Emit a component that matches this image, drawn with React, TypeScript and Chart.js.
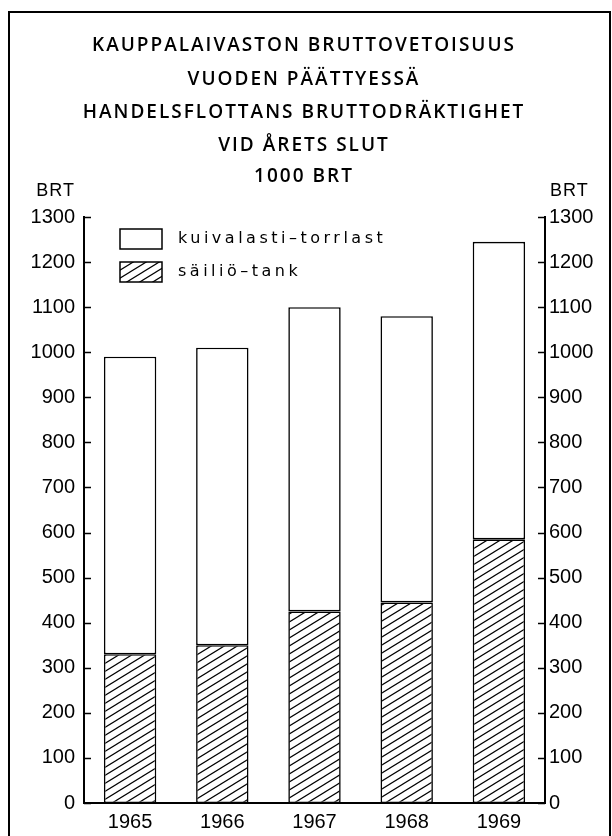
import { useEffect, useRef } from "react";
import { Chart, registerables } from "chart.js";

Chart.register(...registerables);

const years = ["1965", "1966", "1967", "1968", "1969"];
const tankValues = [330, 350, 425, 445, 585];
const dryCargoValues = [660, 660, 675, 635, 660];
const yTickValues = [0, 100, 200, 300, 400, 500, 600, 700, 800, 900, 1000, 1100, 1200, 1300];
const seriesLabels = ["säiliö–tank", "kuivalasti–torrlast"];
const titleLines = [
  "KAUPPALAIVASTON BRUTTOVETOISUUS",
  "VUODEN PÄÄTTYESSÄ",
  "HANDELSFLOTTANS BRUTTODRÄKTIGHET",
  "VID ÅRETS SLUT",
  "1000 BRT",
];
const unitLabel = "BRT";

const NUM_FONT = "'Liberation Sans', Arial, sans-serif";
const TXT_FONT = "'DejaVu Sans', 'Liberation Sans', sans-serif";
const TITLE_FONT = "'Open Sans', 'DejaVu Sans', sans-serif";

function makeHatch(): CanvasPattern | string {
  const c = document.createElement("canvas");
  const w = 13;
  const h = 8;
  c.width = w;
  c.height = h;
  const g = c.getContext("2d");
  if (!g) return "#fff";
  g.fillStyle = "#fff";
  g.fillRect(0, 0, w, h);
  g.strokeStyle = "#000";
  g.lineWidth = 1.2;
  g.beginPath();
  for (const off of [-h, 0, h]) {
    g.moveTo(-w, 2 * h + off);
    g.lineTo(2 * w, -h + off);
  }
  g.stroke();
  const p = g.createPattern(c, "repeat");
  return p || "#fff";
}

export default function App() {
  const ref = useRef<HTMLCanvasElement | null>(null);

  useEffect(() => {
    const canvas = ref.current;
    if (!canvas) return;
    const hatch = makeHatch();

    const decor = {
      id: "decor",
      beforeDraw(chart: any) {
        const ctx = chart.ctx;
        ctx.save();
        ctx.fillStyle = "#fff";
        ctx.fillRect(0, 0, chart.width, chart.height);
        ctx.restore();
      },
      afterDraw(chart: any) {
        const ctx = chart.ctx as CanvasRenderingContext2D;
        const area = chart.chartArea;
        ctx.save();
        // frame
        ctx.strokeStyle = "#000";
        ctx.lineWidth = 2;
        ctx.beginPath();
        ctx.moveTo(9, chart.height + 2);
        ctx.lineTo(9, 12);
        ctx.lineTo(610, 12);
        ctx.lineTo(610, chart.height + 2);
        ctx.stroke();

        // title
        ctx.fillStyle = "#000";
        ctx.textAlign = "center";
        ctx.textBaseline = "middle";
        ctx.font = `600 19px ${TITLE_FONT}`;
        (ctx as any).letterSpacing = "2px";
        const ys = [46, 80, 113, 146, 177];
        titleLines.forEach((t, i) => ctx.fillText(t, 304, ys[i]));

        // unit labels
        ctx.font = `18px ${NUM_FONT}`;
        (ctx as any).letterSpacing = "1px";
        ctx.textAlign = "right";
        ctx.fillText(unitLabel, 75, 191);
        ctx.textAlign = "left";
        ctx.fillText(unitLabel, 550, 191);
        (ctx as any).letterSpacing = "0px";

        // inward ticks
        const ys1 = chart.scales.y;
        ctx.lineWidth = 1.5;
        ctx.beginPath();
        ys1.ticks.forEach((t: any) => {
          const y = Math.round(ys1.getPixelForValue(t.value)) + 0.5;
          ctx.moveTo(area.left, y);
          ctx.lineTo(area.left + 7, y);
          ctx.moveTo(area.right - 7, y);
          ctx.lineTo(area.right, y);
        });
        ctx.stroke();

        // legend (inside plot, top-down = reverse of stack order)
        const ds = chart.data.datasets;
        const order = [...ds.keys()].reverse();
        const bx = 120;
        const bw = 42;
        const bh = 20;
        const rowY = [229, 262];
        order.forEach((di: number, row: number) => {
          const d = ds[di];
          const y = rowY[row];
          ctx.fillStyle = d.backgroundColor;
          ctx.fillRect(bx, y, bw, bh);
          ctx.strokeStyle = "#000";
          ctx.lineWidth = 1.5;
          ctx.strokeRect(bx, y, bw, bh);
          ctx.fillStyle = "#000";
          ctx.font = `16px ${TXT_FONT}`;
          (ctx as any).letterSpacing = "3.5px";
          ctx.textAlign = "left";
          ctx.textBaseline = "middle";
          ctx.fillText(d.label, 178, y + bh / 2);
        });
        ctx.restore();
      },
    };

    const chart = new Chart(canvas, {
      type: "bar",
      data: {
        labels: years,
        datasets: [
          {
            label: seriesLabels[0],
            data: tankValues,
            backgroundColor: hatch as any,
            borderColor: "#000",
            borderWidth: 1.6,
            borderSkipped: false,
            yAxisID: "y",
          },
          {
            label: seriesLabels[1],
            data: dryCargoValues,
            backgroundColor: "#fff",
            borderColor: "#000",
            borderWidth: 1.6,
            borderSkipped: false,
            yAxisID: "y",
          },
        ],
      },
      options: {
        responsive: false,
        animation: false,
        devicePixelRatio: 1,
        layout: { padding: { top: 217, left: 0, right: 0, bottom: 0 } },
        datasets: { bar: { barPercentage: 0.58, categoryPercentage: 0.98 } },
        plugins: {
          legend: { display: false },
          title: { display: false },
          tooltip: { enabled: false },
        },
        scales: {
          x: {
            stacked: true,
            grid: { display: false, drawTicks: false },
            border: { display: true, color: "#000", width: 2 },
            ticks: { color: "#000", font: { family: NUM_FONT, size: 20 }, padding: 7 },
            afterFit: (s: any) => {
              s.height = 33;
            },
          },
          y: {
            stacked: true,
            position: "left",
            min: 0,
            max: 1300,
            grid: { display: false, drawTicks: false },
            border: { display: true, color: "#000", width: 2 },
            afterBuildTicks: (s: any) => {
              s.ticks = yTickValues.map((v) => ({ value: v }));
            },
            ticks: {
              color: "#000",
              font: { family: NUM_FONT, size: 20 },
              padding: 9,
              callback: (v: any) => String(v),
            },
            afterFit: (s: any) => {
              s.width = 84;
            },
          },
          y2: {
            position: "right",
            min: 0,
            max: 1300,
            grid: { display: false, drawTicks: false },
            border: { display: true, color: "#000", width: 2 },
            afterBuildTicks: (s: any) => {
              s.ticks = yTickValues.map((v) => ({ value: v }));
            },
            ticks: {
              color: "#000",
              font: { family: NUM_FONT, size: 20 },
              padding: 4,
              callback: (v: any) => String(v),
            },
            afterFit: (s: any) => {
              s.width = 67;
            },
          },
        },
      },
      plugins: [decor],
    });

    return () => chart.destroy();
  }, []);

  return (
    <div style={{ position: "absolute", left: 0, top: 0, width: 612, height: 836, background: "#fff" }}>
      <canvas ref={ref} width={612} height={836} style={{ display: "block", width: 612, height: 836 }} />
    </div>
  );
}
